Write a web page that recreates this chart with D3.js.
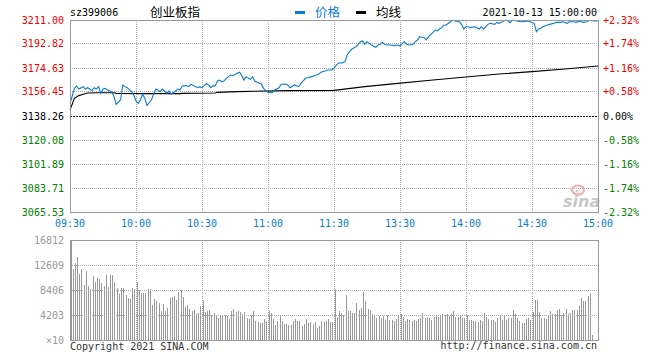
<!DOCTYPE html>
<html lang="zh">
<head>
<meta charset="UTF-8">
<title>创业板指</title>
<script src="https://cdn.jsdelivr.net/npm/d3@7"></script>
<style>
    body { margin: 0; background: #fff; }
    text { font-family: "DejaVu Sans Mono", "Liberation Mono", monospace; font-size: 10px; }
    .cn { font-family: "Noto Sans CJK SC", sans-serif; font-size: 12.5px; }
</style>
</head>
<body>
<svg id="chart" width="660" height="360"></svg>
<script>
    // 坐标轴刻度
    const priceTicks = [3211.00, 3192.82, 3174.63, 3156.45, 3138.26, 3120.08, 3101.89, 3083.71, 3065.53];
    const pctTicks = ["+2.32%", "+1.74%", "+1.16%", "+0.58%", "0.00%", "-0.58%", "-1.16%", "-1.74%", "-2.32%"];
    const timeTicks = ["09:30", "10:00", "10:30", "11:00", "11:30", "13:30", "14:00", "14:30", "15:00"];
    const volTicks = [16812, 12609, 8406, 4203];
    const prevClose = 3138.26;

    // 价格 (分钟序号, 点位) 0 = 09:30, 120 = 11:30/13:00, 240 = 15:00
    const priceMin = [0, 2, 3, 4, 6, 7, 8, 9, 10, 11, 12, 13, 14, 15, 16, 17, 19, 20, 21, 23,
        24, 25, 26, 28, 29, 30, 31, 32, 33, 34, 35, 37, 38, 39, 40, 41, 42, 43, 44, 45,
        46, 48, 49, 50, 51, 53, 54, 55, 56, 58, 59, 60, 61, 62, 63, 64, 65, 66, 67, 68,
        69, 70, 71, 73, 74, 76, 77, 78, 79, 80, 82, 83, 84, 86, 87, 88, 90, 91, 92, 93,
        95, 96, 98, 99, 100, 102, 104, 105, 106, 107, 108, 110, 111, 113, 114, 116, 117, 119, 120,
        121, 122, 124, 125, 126, 127, 128, 130, 131, 132, 133, 134, 135, 136, 137, 139, 140, 141, 142, 143,
        144, 146, 147, 149, 150, 151, 152, 153, 154, 156, 157, 158, 159, 160, 161, 162, 163, 165, 166, 167,
        168, 169, 170, 171, 172, 173, 174, 175, 177, 178, 179, 180, 181, 182, 184, 185, 186, 187, 188, 189,
        190, 191, 193, 194, 195, 196, 198, 199, 200, 201, 202, 203, 205, 206, 208, 209, 211, 212, 213, 214,
        215, 217, 218, 220, 221, 223, 224, 226, 227, 229, 230, 232, 233, 235, 236, 238, 239, 240];
    const priceVal = [3147.5, 3159.2, 3161.0, 3158.7, 3160.5, 3158.7, 3159.7, 3158.7, 3157.5, 3159.7,
        3158.7, 3160.5, 3155.4, 3158.7, 3159.2, 3158.0, 3156.5, 3152.9, 3147.1, 3150.4,
        3161.8, 3160.5, 3159.7, 3156.7, 3154.2, 3149.6, 3147.9, 3150.4, 3154.7, 3151.7,
        3146.1, 3150.4, 3154.7, 3158.7, 3158.0, 3156.7, 3158.7, 3157.2, 3155.4, 3157.2,
        3154.7, 3157.2, 3158.7, 3158.0, 3161.0, 3161.3, 3160.5, 3162.3, 3161.3, 3159.7,
        3160.5, 3159.7, 3161.3, 3162.8, 3161.8, 3159.7, 3161.3, 3161.0, 3164.8, 3165.5,
        3164.3, 3164.8, 3166.8, 3169.3, 3168.8, 3170.6, 3171.4, 3169.3, 3165.5, 3168.1,
        3166.1, 3168.1, 3164.8, 3163.0, 3162.3, 3159.2, 3155.9, 3156.2, 3156.2, 3158.0,
        3159.7, 3162.3, 3162.5, 3161.8, 3159.7, 3161.8, 3160.5, 3163.0, 3164.8, 3166.8,
        3167.3, 3168.1, 3168.8, 3169.8, 3171.4, 3172.4, 3173.1, 3173.1, 3174.4,
        3176.9, 3178.2, 3178.7, 3179.4, 3184.5, 3187.0, 3188.8, 3190.8, 3192.6, 3194.6,
        3195.1, 3192.6, 3194.6, 3193.3, 3192.1, 3190.3, 3192.1, 3192.6, 3194.1, 3192.6,
        3192.1, 3192.1, 3191.6, 3192.1, 3191.3, 3193.3, 3194.6, 3192.6, 3192.1, 3192.6,
        3194.6, 3195.9, 3198.4, 3197.9, 3197.7, 3195.9, 3198.4, 3201.7, 3203.4, 3202.7,
        3204.2, 3205.2, 3207.2, 3207.2, 3208.5, 3209.7, 3210.8, 3210.3, 3209.7, 3207.7,
        3204.2, 3205.9, 3205.9, 3205.2, 3205.9, 3205.2, 3204.2, 3205.9, 3204.2, 3205.9,
        3207.7, 3208.5, 3207.7, 3209.2, 3208.5, 3209.2, 3211.0, 3210.3, 3209.0, 3210.8,
        3210.8, 3210.3, 3209.7, 3209.7, 3210.3, 3209.7, 3208.5, 3202.2, 3204.2, 3204.7,
        3205.9, 3207.2, 3207.7, 3208.5, 3209.2, 3209.2, 3209.7, 3208.5, 3209.7, 3209.7,
        3209.2, 3210.3, 3209.2, 3209.7, 3210.8, 3210.3, 3210.3, 3210.5];

    // 均线
    const avgMin = [0, 2, 4, 6, 8, 13, 20, 21, 34, 50, 51, 66, 67, 76, 99, 120, 134, 149, 165, 180, 195, 210, 225, 240];
    const avgVal = [3142.8, 3151.6, 3153.7, 3154.7, 3155.7, 3155.9, 3155.9, 3155.4, 3155.2, 3155.2, 3155.4, 3155.7,
        3156.2, 3156.7, 3157.5, 3157.7, 3160.5, 3163.0, 3165.5, 3167.8, 3170.1, 3171.9, 3173.9, 3176.1];

    // 成交量 (×10) 上午 09:30-11:30
    const volAM = [16812,
        11930, 12880, 13950, 11090, 11930, 9240, 11590, 9070, 8570, 10750,
        9740, 10420, 10250, 9580, 9070, 10920, 8900, 10920, 10920, 9740,
        8740, 7730, 8740, 8740, 7560, 7060, 6890, 8740, 8570, 9740,
        8400, 7900, 7900, 7900, 8570, 8570, 5880, 6890, 6550, 6220,
        4870, 6050, 4870, 5380, 7060, 7220, 7390, 6720, 8060, 8400,
        7220, 5540, 5880, 5210, 4870, 5040, 4370, 4540, 5710, 6720,
        4700, 4870, 5040, 4200, 4540, 4030, 3700, 4200, 4030, 4200,
        4030, 3530, 4870, 5210, 4700, 4870, 4700, 4370, 4700, 3700,
        3530, 4200, 4870, 3190, 3020, 2860, 2860, 3530, 3190, 4870,
        4540, 3530, 2520, 3190, 4200, 3190, 2690, 2690, 2520, 2520,
        3190, 3530, 3190, 3190, 2350, 2690, 3530, 2860, 3020, 2690,
        3020, 2020, 2350, 3190, 3020, 3190, 3530, 3020, 3020, 8570];
    // 下午 13:01-15:00
    const volPM = [3860, 4870, 4540, 4200, 7560, 4870, 4870, 4540, 4540, 6220,
        5040, 5380, 8060, 6550, 5210, 5040, 4370, 4200, 3700, 4030,
        3700, 4030, 3360, 4200, 3360, 3360, 3190, 3530, 4200, 4370,
        3860, 3190, 3530, 3360, 3190, 3360, 3190, 3530, 3700, 4540,
        3700, 3860, 3700, 3360, 3860, 4200, 3860, 4200, 4370, 4200,
        4370, 4030, 4370, 4870, 3860, 3860, 4200, 3700, 3700, 4200,
        3360, 3360, 3190, 3190, 3020, 3360, 3190, 4540, 3860, 3530,
        3360, 3360, 3020, 3700, 4030, 3360, 4030, 3360, 3700, 3700,
        5040, 4370, 3700, 3190, 2860, 2860, 3530, 3700, 3360, 4700,
        6720, 6720, 4700, 3700, 3700, 3530, 4030, 4870, 4370, 4370,
        5040, 5210, 4200, 4540, 5210, 4370, 4540, 5040, 5040, 5040,
        5710, 7060, 6550, 6550, 7390, 7900, 840, 0, 0, 0];
    const volumes = volAM.concat(volPM);

    const svg = d3.select("#chart");
    const mLeft = 70, mRight = 598, mTop = 20, mBottom = 212;
    const vTop = 240, vBottom = 340;
    const blue = "#0b7dd0", red = "#f00000", green = "#008000", grid = "#aaa", frame = "#999";

    const x = d3.scaleLinear().domain([0, 240]).range([mLeft, mRight]);
    const y = d3.scaleLinear().domain([priceTicks[8], priceTicks[0]]).range([mBottom, mTop]);
    const yv = d3.scaleLinear().domain([0, volTicks[0]]).range([vBottom, vTop]);
    const px = v => Math.floor(v) + 0.5;
    const tickMin = timeTicks.map((t, i) => i * 30);
    const colorOf = v => v > prevClose ? red : (v < prevClose ? green : "#000");

    // 网格
    const gMain = svg.append("g");
    gMain.selectAll(".hg").data(priceTicks.slice(1, 8).filter(v => v !== prevClose)).enter()
        .append("line")
        .attr("x1", mLeft).attr("x2", mRight)
        .attr("y1", d => px(y(d))).attr("y2", d => px(y(d)))
        .attr("stroke", grid).attr("stroke-dasharray", "1,1");
    gMain.selectAll(".vg").data(tickMin.slice(1, 8)).enter()
        .append("line")
        .attr("x1", d => px(x(d))).attr("x2", d => px(x(d)))
        .attr("y1", mTop).attr("y2", mBottom)
        .attr("stroke", grid).attr("stroke-dasharray", "1,1");
    gMain.append("line")
        .attr("x1", mLeft).attr("x2", mRight)
        .attr("y1", px(y(prevClose))).attr("y2", px(y(prevClose)))
        .attr("stroke", "#000").attr("stroke-dasharray", "2,1");

    // sina 水印
    svg.append("ellipse").attr("cx", 578).attr("cy", 190).attr("rx", 6).attr("ry", 4.5)
        .attr("fill", "none").attr("stroke", "#f4a8a8").attr("stroke-width", 2);
    svg.append("circle").attr("cx", 577).attr("cy", 191).attr("r", 1.5).attr("fill", "#e8c0c0");
    svg.append("text").attr("x", 563).attr("y", 207).text("sina")
        .style("font-family", "DejaVu Sans").style("font-style", "italic").style("font-weight", "bold")
        .style("font-size", "16px").attr("fill", "#c8c8c8");

    // 均线与价格
    const line = d3.line().x(d => x(d[0])).y(d => y(d[1]));
    svg.append("path")
        .attr("d", line(avgMin.map((m, i) => [m, avgVal[i]])))
        .attr("fill", "none").attr("stroke", "#000").attr("stroke-width", 1.1);
    svg.append("path")
        .attr("d", line(priceMin.map((m, i) => [m, priceVal[i]])))
        .attr("fill", "none").attr("stroke", blue).attr("stroke-width", 1.1);

    svg.append("rect").attr("x", mLeft + 0.5).attr("y", mTop + 0.5)
        .attr("width", mRight - mLeft).attr("height", mBottom - mTop)
        .attr("fill", "none").attr("stroke", frame);

    // 左右刻度
    svg.selectAll(".pl").data(priceTicks).enter().append("text")
        .attr("x", 64).attr("y", d => y(d) + 3.5).attr("text-anchor", "end")
        .attr("fill", d => colorOf(d)).text(d => d.toFixed(2));
    svg.selectAll(".pr").data(pctTicks).enter().append("text")
        .attr("x", 603).attr("y", (d, i) => y(priceTicks[i]) + 3.5)
        .attr("fill", (d, i) => colorOf(priceTicks[i])).text(d => d);
    svg.selectAll(".tl").data(timeTicks).enter().append("text")
        .attr("x", (d, i) => x(tickMin[i])).attr("y", 227).attr("text-anchor", "middle")
        .attr("fill", blue).text(d => d);

    // 成交量
    const gVol = svg.append("g");
    gVol.selectAll(".bar").data(volumes).enter().append("rect")
        .attr("x", (d, i) => Math.floor(x(i)) + 1)
        .attr("y", d => yv(Math.min(d, volTicks[0])))
        .attr("width", 1)
        .attr("height", d => vBottom - yv(Math.min(d, volTicks[0])))
        .attr("fill", "#999");
    gVol.selectAll(".vh").data(volTicks.slice(1)).enter().append("line")
        .attr("x1", mLeft).attr("x2", mRight)
        .attr("y1", d => px(yv(d))).attr("y2", d => px(yv(d)))
        .attr("stroke", grid).attr("stroke-dasharray", "1,1");
    gVol.selectAll(".vv").data(tickMin.slice(1, 8)).enter().append("line")
        .attr("x1", d => px(x(d))).attr("x2", d => px(x(d)))
        .attr("y1", vTop).attr("y2", vBottom)
        .attr("stroke", grid).attr("stroke-dasharray", "1,1");
    gVol.append("rect").attr("x", mLeft + 0.5).attr("y", vTop + 0.5)
        .attr("width", mRight - mLeft).attr("height", vBottom - vTop)
        .attr("fill", "none").attr("stroke", frame);
    svg.selectAll(".vl").data(volTicks).enter().append("text")
        .attr("x", 64).attr("y", d => yv(d) + 3.5).attr("text-anchor", "end")
        .attr("fill", "#999").text(d => d);
    svg.append("text").attr("x", 64).attr("y", vBottom + 3.5).attr("text-anchor", "end")
        .attr("fill", "#999").text("×10");

    // 标题与图例
    svg.append("text").attr("x", 70).attr("y", 16).text("sz399006");
    svg.append("text").attr("class", "cn").attr("x", 150).attr("y", 17).text("创业板指");
    svg.append("rect").attr("x", 295).attr("y", 11).attr("width", 10).attr("height", 3).attr("fill", blue);
    svg.append("text").attr("class", "cn").attr("x", 315).attr("y", 17).attr("fill", blue).text("价格");
    svg.append("rect").attr("x", 356).attr("y", 11).attr("width", 10).attr("height", 3).attr("fill", "#000");
    svg.append("text").attr("class", "cn").attr("x", 376).attr("y", 17).text("均线");
    svg.append("text").attr("x", 597).attr("y", 16).attr("text-anchor", "end").text("2021-10-13 15:00:00");

    // 页脚
    svg.append("text").attr("x", 70).attr("y", 350).attr("fill", "#333").text("Copyright 2021 SINA.COM");
    svg.append("text").attr("x", 597).attr("y", 349).attr("text-anchor", "end").attr("fill", "#333")
        .text("http://finance.sina.com.cn");
</script>
</body>
</html>
